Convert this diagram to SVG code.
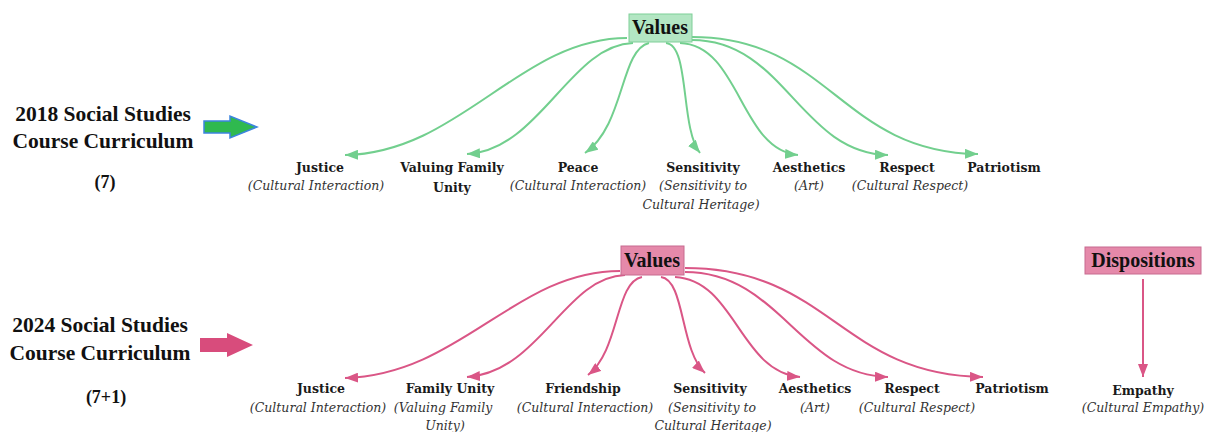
<svg xmlns="http://www.w3.org/2000/svg" width="1207" height="432" viewBox="0 0 1207 432">
<style>
.title{font-family:"Liberation Serif","Times New Roman",serif;font-weight:bold;font-size:21.5px;fill:#111;text-anchor:middle}
.num{font-family:"Liberation Serif","Times New Roman",serif;font-weight:bold;font-size:18px;fill:#111;text-anchor:middle}
.lb{font-family:"DejaVu Serif",serif;font-weight:bold;font-size:12.5px;fill:#1a1a1a;text-anchor:middle}
.it{font-family:"DejaVu Serif",serif;font-style:italic;font-size:12.5px;fill:#333;text-anchor:middle}
.box{font-family:"Liberation Serif","Times New Roman",serif;font-weight:bold;font-size:20px;fill:#111;text-anchor:middle}
.g{fill:none;stroke:#72cf8e;stroke-width:2;marker-end:url(#ag)}
.p{fill:none;stroke:#da5686;stroke-width:2;marker-end:url(#ap)}
</style>
<defs>
<marker id="ag" markerUnits="userSpaceOnUse" markerWidth="14" markerHeight="10" refX="13" refY="5" orient="auto"><path d="M0,0 L13,5 L0,10 z" fill="#72cf8e"/></marker>
<marker id="ap" markerUnits="userSpaceOnUse" markerWidth="14" markerHeight="10" refX="13" refY="5" orient="auto"><path d="M0,0 L13,5 L0,10 z" fill="#da5686"/></marker>
</defs>
<rect width="1207" height="432" fill="#fff"/>

<g id="title2018">
<text class="title" x="103" y="121">2018 Social Studies</text>
<text class="title" x="103" y="148">Course Curriculum</text>
<text class="num" x="105" y="188">(7)</text>
<path d="M204,121 L230,121 L230,116 L257,127 L230,138 L230,133 L204,133 z" fill="#2fb94f" stroke="#3c84e0" stroke-width="1.5"/>
</g>
<g id="title2024">
<text class="title" x="100" y="332">2024 Social Studies</text>
<text class="title" x="100" y="360">Course Curriculum</text>
<text class="num" x="106" y="403">(7+1)</text>
<path d="M200,338 L227,338 L227,333 L253,345 L227,357 L227,352 L200,352 z" fill="#d84c7c"/>
</g>

<g id="connectors">
<path class="g" d="M627,38 C520,38 460,153 345,155"/>
<path class="g" d="M633,43 C570,45 540,150 467,154"/>
<path class="g" d="M649,43 C620,50 625,125 585,153"/>
<path class="g" d="M666,43 C690,45 680,128 700,153"/>
<path class="g" d="M680,43 C740,45 740,150 798,155"/>
<path class="g" d="M692,40 C785,40 800,153 888,155"/>
<path class="g" d="M692,37 C830,37 840,152 978,154"/>

<path class="p" d="M620,271 C515,271 460,375 345,378"/>
<path class="p" d="M625,275 C565,277 540,372 467,377"/>
<path class="p" d="M642,277 C615,282 620,350 588,375"/>
<path class="p" d="M661,277 C685,280 680,350 705,373"/>
<path class="p" d="M675,277 C735,280 740,372 800,377"/>
<path class="p" d="M685,272 C780,272 800,375 888,377"/>
<path class="p" d="M685,268 C830,268 840,375 983,377"/>
<path class="p" d="M1143,279 L1143,377"/>
</g>

<g id="values2018">
<rect x="629" y="14" width="63" height="28" fill="#b3e6c3" stroke="#7fcf98" stroke-width="1"/>
<text class="box" x="660" y="34">Values</text>
</g>
<g id="values2024">
<rect x="621" y="246" width="63" height="29" fill="#e589aa" stroke="#c76b8f" stroke-width="1"/>
<text class="box" x="652" y="267">Values</text>
</g>
<g id="dispositions">
<rect x="1085" y="247" width="116" height="27" fill="#e589aa" stroke="#c76b8f" stroke-width="1"/>
<text class="box" x="1143" y="267">Dispositions</text>
</g>

<g id="t-justice"><text class="lb" x="320" y="172">Justice</text><text class="it" x="316" y="190">(Cultural Interaction)</text></g>
<g id="t-family"><text class="lb" x="452" y="172">Valuing Family</text><text class="lb" x="452" y="192">Unity</text></g>
<g id="t-peace"><text class="lb" x="578" y="172">Peace</text><text class="it" x="578" y="190">(Cultural Interaction)</text></g>
<g id="t-sensitivity"><text class="lb" x="703" y="172">Sensitivity</text><text class="it" x="703" y="190">(Sensitivity to</text><text class="it" x="701" y="209">Cultural Heritage)</text></g>
<g id="t-aesthetics"><text class="lb" x="809" y="172">Aesthetics</text><text class="it" x="809" y="190">(Art)</text></g>
<g id="t-respect"><text class="lb" x="907" y="172">Respect</text><text class="it" x="910" y="190">(Cultural Respect)</text></g>
<g id="t-patriotism"><text class="lb" x="1004" y="172">Patriotism</text></g>

<g id="b-justice"><text class="lb" x="321" y="393">Justice</text><text class="it" x="318" y="412">(Cultural Interaction)</text></g>
<g id="b-family"><text class="lb" x="450" y="393">Family Unity</text><text class="it" x="443" y="412">(Valuing Family</text><text class="it" x="445" y="430">Unity)</text></g>
<g id="b-friendship"><text class="lb" x="583" y="393">Friendship</text><text class="it" x="585" y="412">(Cultural Interaction)</text></g>
<g id="b-sensitivity"><text class="lb" x="710" y="393">Sensitivity</text><text class="it" x="712" y="412">(Sensitivity to</text><text class="it" x="713" y="430">Cultural Heritage)</text></g>
<g id="b-aesthetics"><text class="lb" x="815" y="393">Aesthetics</text><text class="it" x="815" y="412">(Art)</text></g>
<g id="b-respect"><text class="lb" x="912" y="393">Respect</text><text class="it" x="917" y="412">(Cultural Respect)</text></g>
<g id="b-patriotism"><text class="lb" x="1012" y="393">Patriotism</text></g>
<g id="b-empathy"><text class="lb" x="1143" y="395">Empathy</text><text class="it" x="1143" y="412">(Cultural Empathy)</text></g>
</svg>
